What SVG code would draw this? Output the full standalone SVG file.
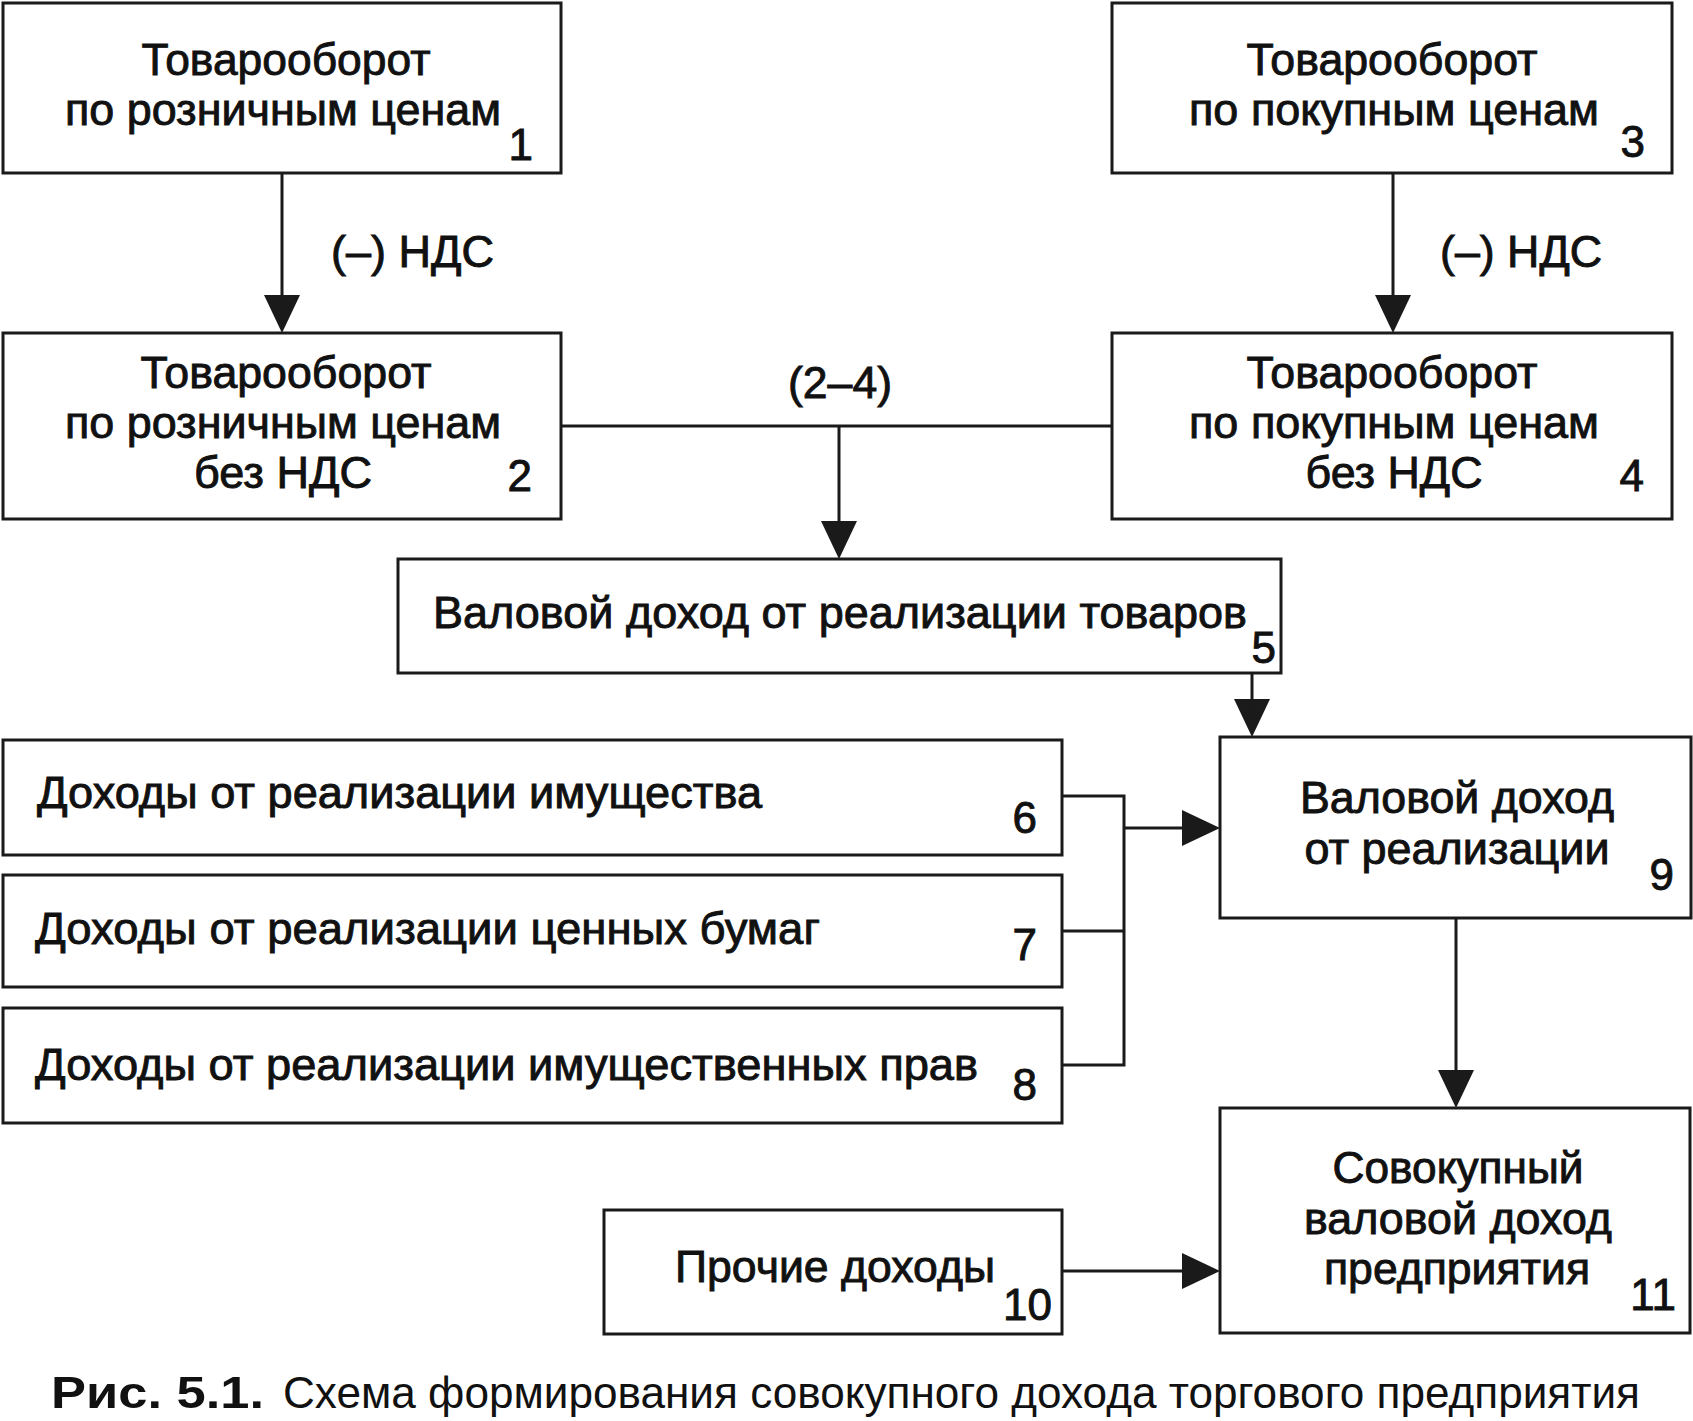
<svg xmlns="http://www.w3.org/2000/svg" width="1693" height="1421" viewBox="0 0 1693 1421">
<style>
  .box { fill: #fff; stroke: #1a1a1a; stroke-width: 3; }
  .t { font-family: "Liberation Sans", Arial, sans-serif; font-size: 44px; fill: #111; stroke: #111; stroke-width: 0.9px; }
  .m { text-anchor: middle; }
  .e { text-anchor: end; }
  .c { stroke: #1a1a1a; stroke-width: 3; fill: none; }
  .cap { font-family: "Liberation Sans", Arial, sans-serif; font-size: 44px; fill: #111; }
</style>
<defs>
  <marker id="ah" viewBox="0 0 38 36" refX="28" refY="18" markerWidth="38" markerHeight="36" markerUnits="userSpaceOnUse" orient="auto">
    <path d="M0,0 L38,18 L0,36 Z" fill="#1a1a1a"/>
  </marker>
</defs>
<rect width="1693" height="1421" fill="#fff"/>

<g id="connectors">
  <line class="c" x1="282" y1="173" x2="282" y2="323" marker-end="url(#ah)"/>
  <line class="c" x1="1393" y1="173" x2="1393" y2="323" marker-end="url(#ah)"/>
  <line class="c" x1="561" y1="426" x2="1112" y2="426"/>
  <line class="c" x1="839" y1="426" x2="839" y2="549" marker-end="url(#ah)"/>
  <line class="c" x1="1252" y1="673" x2="1252" y2="727" marker-end="url(#ah)"/>
  <polyline class="c" points="1062,796 1124,796 1124,1065 1062,1065"/>
  <line class="c" x1="1062" y1="931" x2="1124" y2="931"/>
  <line class="c" x1="1124" y1="828" x2="1210" y2="828" marker-end="url(#ah)"/>
  <line class="c" x1="1456" y1="918" x2="1456" y2="1098" marker-end="url(#ah)"/>
  <line class="c" x1="1062" y1="1271" x2="1210" y2="1271" marker-end="url(#ah)"/>
  <text class="t" x="331" y="267" textLength="163" lengthAdjust="spacingAndGlyphs">(–) НДС</text>
  <text class="t" x="1440" y="267" textLength="162" lengthAdjust="spacingAndGlyphs">(–) НДС</text>
  <text class="t m" x="840" y="398" textLength="104" lengthAdjust="spacingAndGlyphs">(2–4)</text>
</g>

<g id="node1">
  <rect class="box" x="3" y="3" width="558" height="170"/>
  <text class="t m" x="286" y="75" textLength="289" lengthAdjust="spacingAndGlyphs">Товарооборот</text>
  <text class="t m" x="283" y="125" textLength="436" lengthAdjust="spacingAndGlyphs">по розничным ценам</text>
  <text class="t e" x="533" y="160">1</text>
</g>

<g id="node2">
  <rect class="box" x="3" y="333" width="558" height="186"/>
  <text class="t m" x="286" y="388" textLength="291" lengthAdjust="spacingAndGlyphs">Товарооборот</text>
  <text class="t m" x="283" y="438" textLength="436" lengthAdjust="spacingAndGlyphs">по розничным ценам</text>
  <text class="t m" x="283" y="488" textLength="178" lengthAdjust="spacingAndGlyphs">без НДС</text>
  <text class="t e" x="532" y="491">2</text>
</g>

<g id="node3">
  <rect class="box" x="1112" y="3" width="560" height="170"/>
  <text class="t m" x="1392" y="75" textLength="291" lengthAdjust="spacingAndGlyphs">Товарооборот</text>
  <text class="t m" x="1394" y="125" textLength="410" lengthAdjust="spacingAndGlyphs">по покупным ценам</text>
  <text class="t e" x="1645" y="157">3</text>
</g>

<g id="node4">
  <rect class="box" x="1112" y="333" width="560" height="186"/>
  <text class="t m" x="1392" y="388" textLength="291" lengthAdjust="spacingAndGlyphs">Товарооборот</text>
  <text class="t m" x="1394" y="438" textLength="410" lengthAdjust="spacingAndGlyphs">по покупным ценам</text>
  <text class="t m" x="1394" y="488" textLength="177" lengthAdjust="spacingAndGlyphs">без НДС</text>
  <text class="t e" x="1644" y="491">4</text>
</g>

<g id="node5">
  <rect class="box" x="398" y="559" width="883" height="114"/>
  <text class="t" x="433" y="628" textLength="814" lengthAdjust="spacingAndGlyphs">Валовой доход от реализации товаров</text>
  <text class="t e" x="1276" y="663">5</text>
</g>

<g id="node6">
  <rect class="box" x="3" y="740" width="1059" height="115"/>
  <text class="t" x="37" y="808" textLength="725" lengthAdjust="spacingAndGlyphs">Доходы от реализации имущества</text>
  <text class="t e" x="1037" y="833">6</text>
</g>

<g id="node7">
  <rect class="box" x="3" y="875" width="1059" height="112"/>
  <text class="t" x="35" y="944" textLength="785" lengthAdjust="spacingAndGlyphs">Доходы от реализации ценных бумаг</text>
  <text class="t e" x="1037" y="960">7</text>
</g>

<g id="node8">
  <rect class="box" x="3" y="1008" width="1059" height="115"/>
  <text class="t" x="35" y="1080" textLength="943" lengthAdjust="spacingAndGlyphs">Доходы от реализации имущественных прав</text>
  <text class="t e" x="1037" y="1100">8</text>
</g>

<g id="node9">
  <rect class="box" x="1220" y="737" width="471" height="181"/>
  <text class="t m" x="1457" y="813" textLength="314" lengthAdjust="spacingAndGlyphs">Валовой доход</text>
  <text class="t m" x="1457" y="864" textLength="305" lengthAdjust="spacingAndGlyphs">от реализации</text>
  <text class="t e" x="1674" y="890">9</text>
</g>

<g id="node10">
  <rect class="box" x="604" y="1210" width="458" height="124"/>
  <text class="t" x="675" y="1282" textLength="320" lengthAdjust="spacingAndGlyphs">Прочие доходы</text>
  <text class="t e" x="1052" y="1320">10</text>
</g>

<g id="node11">
  <rect class="box" x="1220" y="1108" width="470" height="225"/>
  <text class="t m" x="1458" y="1183" textLength="251" lengthAdjust="spacingAndGlyphs">Совокупный</text>
  <text class="t m" x="1458" y="1234" textLength="308" lengthAdjust="spacingAndGlyphs">валовой доход</text>
  <text class="t m" x="1457" y="1284" textLength="266" lengthAdjust="spacingAndGlyphs">предприятия</text>
  <text class="t e" x="1676" y="1310">11</text>
</g>

<g id="caption">
  <text class="cap" x="51" y="1408" font-weight="bold" textLength="213" lengthAdjust="spacingAndGlyphs">Рис. 5.1.</text>
  <text class="cap" x="283" y="1408" textLength="1357" lengthAdjust="spacingAndGlyphs">Схема формирования совокупного дохода торгового предприятия</text>
</g>
</svg>
